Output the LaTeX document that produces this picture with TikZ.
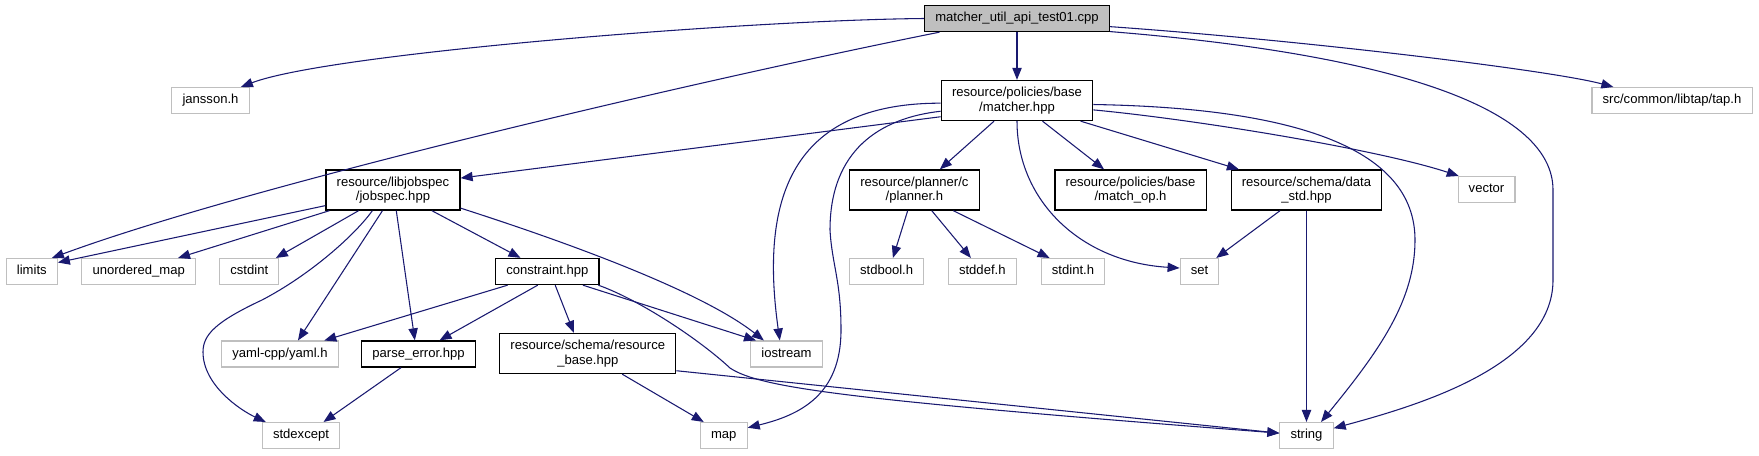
\documentclass[tikz,border=0pt]{standalone}
\usepackage{fontspec}
\setmainfont{Liberation Sans}
\usepackage{tikz}
\usetikzlibrary{arrows.meta}

\definecolor{edgeblue}{HTML}{191970}

\begin{document}
\begin{tikzpicture}[x=0.75pt, y=-0.75pt,
		box/.style={rectangle, inner xsep=8pt, font=\fontsize{9.8}{11}\selectfont},
		one/.style={box, minimum height=19.5pt, text height=7pt, text depth=2pt},
		two/.style={box, minimum height=30pt, align=center},
		doc/.style={draw=black, line width=1pt},
		ext/.style={draw=gray!50, line width=0.8pt},
		hdr/.style={one, draw=black, fill=gray!50, line width=1pt},
		inc/.style={-{Triangle[length=9pt,width=7pt]}, edgeblue, line width=0.8pt}]
		
		\useasboundingbox (0,0) rectangle (1759,455);
		
		% Top row
		\node[hdr] (main) at (1017,18.5) {matcher\_util\_api\_test01.cpp};
		
		% Second row
		\node[one, ext] (jansson) at (210.5,100.5) {jansson.h};
		\node[two, doc] (matcher) at (1017,100.5) {resource/policies/base\\/matcher.hpp};
		\node[one, ext] (tap) at (1672,100.5) {src/common/libtap/tap.h};
		
		% Third row
		\node[two, doc] (jobspec) at (393,190) {resource/libjobspec\\/jobspec.hpp};
		\node[two, doc] (planner) at (914.4,190) {resource/planner/c\\/planner.h};
		\node[two, doc] (matchop) at (1130.5,190) {resource/policies/base\\/match\_op.h};
		\node[two, doc] (datastd) at (1306.5,190) {resource/schema/data\\\_std.hpp};
		\node[one, ext] (vector) at (1486.5,189.5) {vector};
		
		% Fourth row
		\node[one, ext] (limits) at (31.8,271.5) {limits};
		\node[one, ext] (unorderedmap) at (138.7,271.5) {unordered\_map};
		\node[one, ext] (cstdint) at (249.3,271.5) {cstdint};
		\node[one, doc] (constraint) at (547.3,271.5) {constraint.hpp};
		\node[one, ext] (stdbool) at (886.6,271.5) {stdbool.h};
		\node[one, ext] (stddef) at (982.3,271.5) {stddef.h};
		\node[one, ext] (stdint) at (1073,271.5) {stdint.h};
		\node[one, ext] (set) at (1199.5,271.5) {set};
		
		% Fifth row
		\node[one, ext] (yaml) at (280,354) {yaml-cpp/yaml.h};
		\node[one, doc] (parseerror) at (418.5,354) {parse\_error.hpp};
		\node[two, doc] (resbase) at (587.8,353.5) {resource/schema/resource\\\_base.hpp};
		\node[one, ext] (iostream) at (786.4,354) {iostream};
		
		% Bottom row
		\node[one, ext] (stdexcept) at (301,435.5) {stdexcept};
		\node[one, ext] (map) at (723.8,435.5) {map};
		\node[one, ext] (string) at (1306.5,435.5) {string};
		
		% Includes of the test file
		\draw[inc] (main.west) .. controls (750,20) and (330,53) .. (jansson.24);
		\draw[inc] (main.190) .. controls (700,80) and (250,185) .. (limits.34);
		\draw[inc] (main.south) -- (matcher.north);
		\draw[inc] (main.-5) .. controls (1300,40) and (1550,70) .. (tap.167);
		\draw[inc] (main.-8) .. controls (1400,55) and (1553,110) .. (1553,190) -- (1553,280)
			.. controls (1553,365) and (1420,405) .. (string.15);
		
		% Includes of matcher.hpp
		\draw[inc] (matcher.-168) -- (jobspec.10);
		\draw[inc] (matcher.182) .. controls (790,103) and (760,200) .. (iostream.116);
		\draw[inc] (matcher.188.6) .. controls (880,118) and (830,150) .. (830,230)
			.. controls (832,265) and (841,280) .. (841,330)
			.. controls (841,395) and (800,415) .. (map.18);
		\draw[inc] (matcher.-138) -- (planner.39.5);
		\draw[inc] (matcher.south) .. controls (1017,200) and (1080,262) .. (set.170);
		\draw[inc] (matcher.-39.4) -- (matchop.142);
		\draw[inc] (matcher.-18) -- (datastd.163);
		\draw[inc] (matcher.-7) .. controls (1200,120) and (1380,150) .. (vector.154);
		\draw[inc] (matcher.-3.4) .. controls (1300,108) and (1415,150) .. (1415,240)
			.. controls (1415,300) and (1380,350) .. (string.43);
		
		% Includes of jobspec.hpp
		\draw[inc] (jobspec.193) -- (limits.19.5);
		\draw[inc] (jobspec.198.4) -- (unorderedmap.19);
		\draw[inc] (jobspec.211) -- (cstdint.27.7);
		\draw[inc] (jobspec.225) .. controls (355,235) and (310,275) .. (262,300)
			.. controls (215,322) and (203,335) .. (203,352)
			.. controls (203,385) and (240,410) .. (stdexcept.159);
		\draw[inc] (jobspec.243) -- (yaml.37);
		\draw[inc] (jobspec.-81.5) -- (parseerror.105);
		\draw[inc] (jobspec.-28) -- (constraint.153);
		\draw[inc] (jobspec.-15) .. controls (560,240) and (700,290) .. (iostream.149);
		
		% Includes of constraint.hpp
		\draw[inc] (constraint.199.4) -- (yaml.17.4);
		\draw[inc] (constraint.235) -- (parseerror.33.7);
		\draw[inc] (constraint.-60) -- (resbase.124);
		\draw[inc] (constraint.-21) -- (iostream.156);
		\draw[inc] (constraint.-15) .. controls (640,300) and (700,340) .. (730,368)
			.. controls (760,388) and (850,400) .. (string.175);
		
		% Remaining includes
		\draw[inc] (parseerror.218) -- (stdexcept.31.4);
		\draw[inc] (resbase.-31.7) -- (map.146);
		\draw[inc] (resbase.-11.2) -- (string.175);
		\draw[inc] (planner.252) -- (stdbool.65);
		\draw[inc] (planner.-50) -- (stddef.130);
		\draw[inc] (planner.-28) -- (stdint.150.6);
		\draw[inc] (datastd.218.7) -- (set.39.3);
		\draw[inc] (datastd.south) -- (string.north);
		
	\end{tikzpicture}
\end{document}
